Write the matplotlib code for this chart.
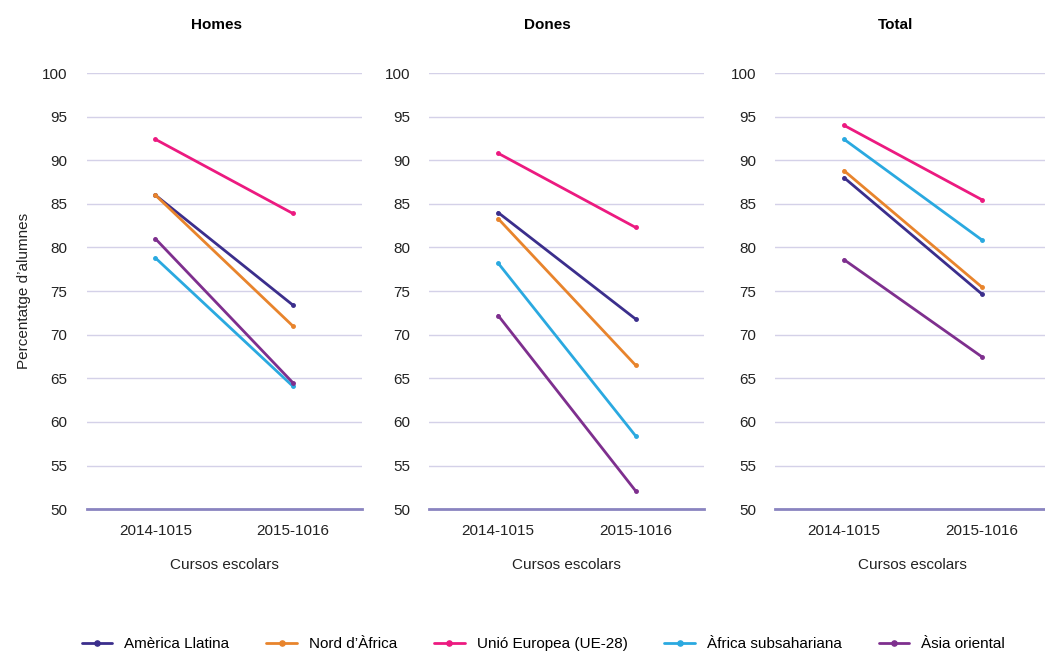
import matplotlib.pyplot as plt

# ── DATA ──
cursos = ['2014-1015', '2015-1016']
panels = ['Homes', 'Dones', 'Total']
series = ['Amèrica Llatina', 'Nord d’Àfrica', 'Unió Europea (UE-28)',
          'Àfrica subsahariana', 'Àsia oriental']
homes = [[86.0, 73.4], [86.0, 71.0], [92.4, 83.9], [78.8, 64.1], [81.0, 64.5]]
dones = [[84.0, 71.8], [83.3, 66.5], [90.8, 82.3], [78.2, 58.4], [72.2, 52.1]]
total = [[88.0, 74.7], [88.8, 75.5], [94.0, 85.5], [92.4, 80.9], [78.6, 67.5]]
colors = ['#3b2e8c', '#e8842c', '#ec1a80', '#2aa9e0', '#7e2f8e']

plt.rcParams['font.family'] = ['Liberation Sans', 'DejaVu Sans']

fig = plt.figure(figsize=(10.45, 6.52), dpi=100)
lefts = [0.083, 0.411, 0.742]
title_x = [0.473, 0.43, 0.436]
width = 0.263
handles = []
for i, (title, data) in enumerate(zip(panels, [homes, dones, total])):
    ax = fig.add_axes([lefts[i], 0.219, width, 0.669])
    for j, vals in enumerate(data):
        h, = ax.plot(range(len(cursos)), vals, color=colors[j], linewidth=2,
                     marker='o', markersize=2.5, solid_capstyle='round')
        if i == 0:
            handles.append(h)
    ax.set_xlim(-0.5, 1.5)
    ax.set_ylim(50, 100)
    ax.set_yticks(range(50, 101, 5))
    ax.set_xticks(range(len(cursos)))
    ax.set_xticklabels(cursos)
    ax.grid(axis='y', color='#d4d1e8', linewidth=1)
    ax.set_axisbelow(True)
    for s in ['top', 'right', 'left']:
        ax.spines[s].set_visible(False)
    ax.spines['bottom'].set_color('#8a84c0')
    ax.spines['bottom'].set_linewidth(2)
    ax.tick_params(length=0, labelsize=11, colors='#222222')
    ax.tick_params(axis='y', pad=14)
    ax.tick_params(axis='x', pad=11)
    ax.set_xlabel('Cursos escolars', fontsize=11, labelpad=14, color='#222222')
    ax.set_title(title, fontsize=11, fontweight='bold', pad=32, x=title_x[i])
    if i == 0:
        ax.set_ylabel('Percentatge d’alumnes', fontsize=11, labelpad=8, color='#222222')

fig.legend(handles, series, loc='lower center', ncol=5, frameon=False,
           fontsize=11, bbox_to_anchor=(0.52, -0.02), handlelength=2,
           columnspacing=2.4, markerscale=1.5)

plt.savefig('out.png', dpi=100)
